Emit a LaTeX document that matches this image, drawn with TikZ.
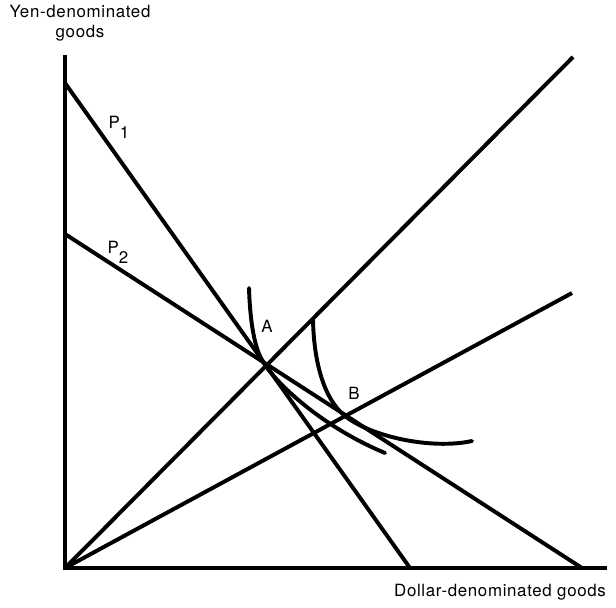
\documentclass[tikz,border=0pt]{standalone}
\usepackage{fontspec}
\setmainfont{TeX Gyre Heros}[LetterSpace=4.0]
\begin{document}
\begin{tikzpicture}[x=0.025cm, y=-0.025cm]
        % Common Styles
        \tikzset{axis/.style={line width=2.2pt}}
        \tikzset{budget/.style={line width=2.8pt}}
        \tikzset{indiff/.style={line width=2.8pt, line cap=round}}
        \tikzset{lbl/.style={font=\fontsize{12}{14}\selectfont, inner sep=0pt}}
        \useasboundingbox (0, 0) rectangle (616, 607);

        % 1. Axes
        \coordinate (O) at (65, 568);
        \coordinate (Ytop) at (65, 55);
        \coordinate (Xend) at (607, 568);
        \draw[axis] (Ytop) -- (O) -- (Xend);
        \node[lbl, align=center] (ylab) at (80, 23) {Yen-denominated\\goods};
        \node[lbl] (xlab) at (500, 592) {Dollar-denominated goods};

        % 2. Price lines
        \coordinate (P1a) at (65, 83);
        \coordinate (P1b) at (410, 568);
        \coordinate (P2a) at (65, 234);
        \coordinate (P2b) at (582, 568);
        \draw[budget] (P1a) -- (P1b);
        \draw[budget] (P2a) -- (P2b);
        \node[lbl] (p1) at (119, 127) {P\raisebox{-7pt}{1}};
        \node[lbl] (p2) at (118, 252) {P\raisebox{-7pt}{2}};

        % 3. Rays from origin
        \coordinate (R1) at (573, 57);
        \coordinate (R2) at (572, 293);
        \draw[budget] (O) -- (R1);
        \draw[budget] (O) -- (R2);

        % 4. Indifference curves
        \coordinate (A) at (265, 365);
        \coordinate (B) at (345, 416);
        \draw[indiff] (249, 288) .. controls (250, 320) and (254, 350) .. (A)
            .. controls (285, 393) and (330, 430) .. (385, 453);
        \draw[indiff] (313, 320) .. controls (314, 365) and (325, 400) .. (B)
            .. controls (370, 436) and (430, 450) .. (472, 441);
        \node[lbl] (alab) at (267, 326) {A};
        \node[lbl] (blab) at (354, 393) {B};
    \end{tikzpicture}
\end{document}
